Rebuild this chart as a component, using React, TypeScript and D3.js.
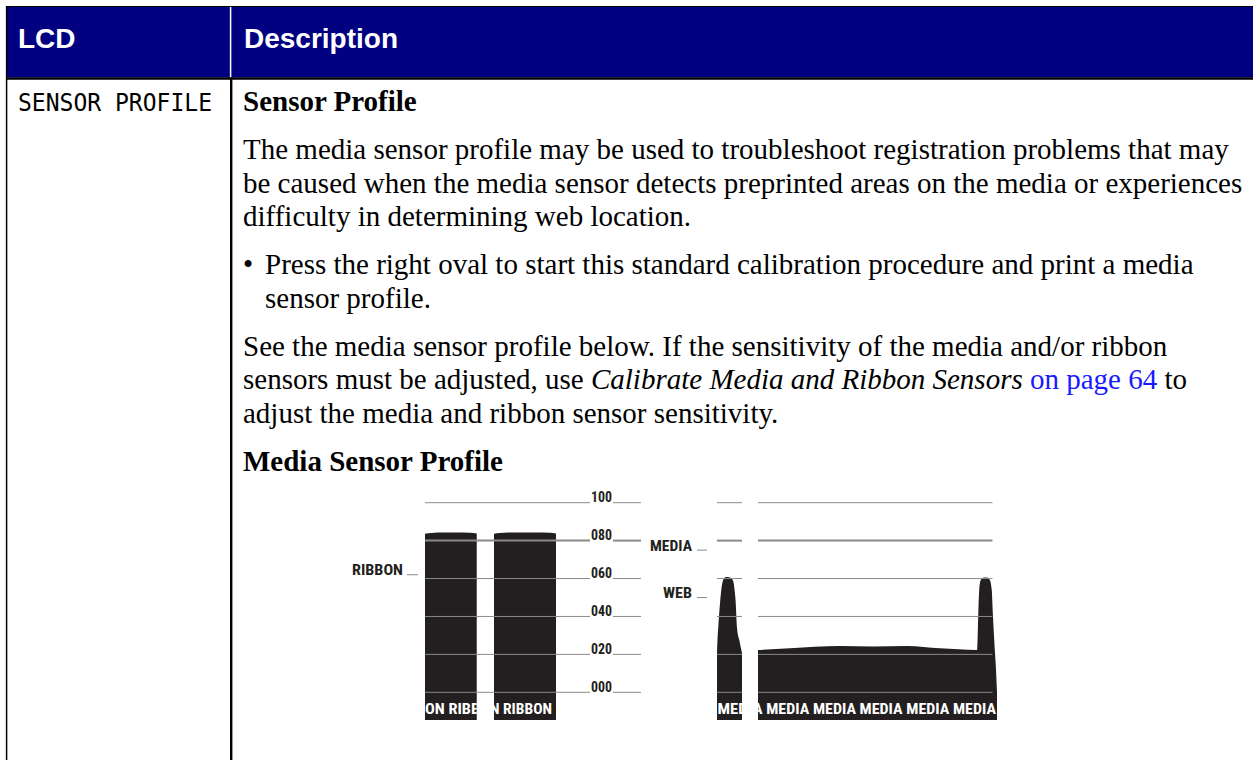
import * as d3 from 'd3';

// ---- chart values ----
const tickValues = [0, 20, 40, 60, 80, 100];
const tickLabels = ['000', '020', '040', '060', '080', '100'];

// strip position (sample) -> sensor reading
const ribbonPanels: [number, number][] = [[0, 20.7], [27.6, 52.4]];
const ribbonA: [number, number][] = [[0, 83.6], [2.5, 84.0], [5, 84.3], [12, 84.3], [18, 84.1], [20.7, 83.7]];
const ribbonB: [number, number][] = [[27.6, 83.6], [30, 84.0], [33, 84.3], [44, 84.3], [50, 84.1], [52.4, 83.7]];

const mediaPanels: [number, number][] = [[0, 10], [16.4, 110.2]];
const mediaA: [number, number][] = [
  [0, 20.6], [0.2, 28], [0.5, 34], [1.2, 47], [1.8, 55], [2.4, 59], [3.6, 60.8],
  [5.2, 60.6], [6.4, 59], [7.2, 52], [7.5, 47], [8, 34], [9, 27], [10, 20.6],
];
const mediaB: [number, number][] = [
  [16.4, 22.3], [29.2, 23.2], [49.2, 24.4], [62.4, 24.1], [76, 24.4], [89.2, 23.2],
  [104, 22.3], [104.6, 45], [105, 56], [105.6, 59.5], [106.8, 60.6], [108, 60.5],
  [109.2, 59], [109.9, 54], [110.4, 40], [111, 25], [111.6, 12], [112, 0],
];

const ribbonThreshold = 62;
const mediaThreshold = 75;
const webThreshold = 50;

const introLines = [
  'The media sensor profile may be used to troubleshoot registration problems that may',
  'be caused when the media sensor detects preprinted areas on the media or experiences',
  'difficulty in determining web location.',
];
const bulletLines = [
  'Press the right oval to start this standard calibration procedure and print a media',
  'sensor profile.',
];

const W = 1253;
const H = 760;
const serif = "'Liberation Serif', 'Times New Roman', serif";
const sans = "'Liberation Sans', Arial, sans-serif";
const narrow = "'Liberation Sans Narrow', 'Arial Narrow', 'Roboto Condensed', sans-serif";
const ink = '#231f20';
const grid = '#8a8a8a';

export default function App() {
  const y = d3.scaleLinear().domain([0, 100]).range([692.3, 502.7]);
  const xRibbon = d3.scaleLinear().domain([0, 66]).range([425, 590]);
  const xMedia = d3.scaleLinear().domain([0, 112]).range([717, 997]);
  const bandBottom = 720;

  const areaFor = (x: d3.ScaleLinear<number, number>) =>
    d3.area<[number, number]>()
      .x(d => x(d[0]))
      .y0(bandBottom)
      .y1(d => y(d[1]))
      .curve(d3.curveMonotoneX);

  const ribbonArea = areaFor(xRibbon);
  const mediaArea = areaFor(xMedia);

  // text layout
  const tx = 243;
  const lh = 33.5;
  const gap = 14.5;
  const titleY = 111;
  const introY = titleY + lh + gap;
  const bulletY = introY + 2 * lh + lh + gap;
  const seeY = bulletY + lh + lh + gap;
  const mspY = seeY + 2 * lh + lh + gap;

  // the printed word strip under each panel, cut off at the panel edges
  const bandText = (
    id: string, x0: number, x1: number, label: string, start: number, len: number
  ) => (
    <g key={id}>
      <clipPath id={id}>
        <rect x={x0} y={y(0)} width={x1 - x0} height={bandBottom - y(0)} />
      </clipPath>
      <text
        clipPath={`url(#${id})`}
        x={start}
        y={713.5}
        fill="#fff"
        fontFamily={narrow}
        fontWeight="bold"
        fontSize={15}
        textLength={len}
        lengthAdjust="spacingAndGlyphs"
      >
        {label}
      </text>
    </g>
  );

  return (
    <svg width={W} height={H} style={{ position: 'absolute', left: 0, top: 0, background: '#fff' }}>
      {/* table frame */}
      <rect x={7} y={6} width={W - 7} height={71.5} fill="#000080" />
      <line x1={6} x2={W} y1={6.5} y2={6.5} stroke="#000" strokeWidth={1.2} />
      <line x1={230.6} x2={230.6} y1={7} y2={77.5} stroke="#fff" strokeWidth={1.5} />
      <line x1={6} x2={W} y1={78.6} y2={78.6} stroke="#000" strokeWidth={2.5} />
      <line x1={6.6} x2={6.6} y1={6} y2={H} stroke="#000" strokeWidth={1.5} />
      <line x1={231.2} x2={231.2} y1={78} y2={H} stroke="#000" strokeWidth={2.4} />

      <text x={18} y={48} fill="#fff" fontFamily={sans} fontWeight="bold" fontSize={28}>LCD</text>
      <text x={244} y={48} fill="#fff" fontFamily={sans} fontWeight="bold" fontSize={28}>Description</text>

      <text x={18} y={111} fill="#000" fontFamily="'DejaVu Sans Mono', monospace" fontSize={24}
        textLength={194} lengthAdjust="spacingAndGlyphs">SENSOR PROFILE</text>

      {/* description text */}
      <g fontFamily={serif} fontSize={29} fill="#000">
        <text x={tx} y={titleY} fontWeight="bold">Sensor Profile</text>
        {introLines.map((l, i) => (
          <text key={l} x={tx} y={introY + i * lh}>{l}</text>
        ))}
        <text x={tx} y={bulletY}>{'\u2022'}</text>
        {bulletLines.map((l, i) => (
          <text key={l} x={265} y={bulletY + i * lh}>{l}</text>
        ))}
        <text x={tx} y={seeY}>See the media sensor profile below. If the sensitivity of the media and/or ribbon</text>
        <text x={tx} y={seeY + lh}>
          sensors must be adjusted, use <tspan fontStyle="italic">Calibrate Media and Ribbon Sensors</tspan>{' '}
          <tspan fill="#1a1aff">on page 64</tspan> to
        </text>
        <text x={tx} y={seeY + 2 * lh}>adjust the media and ribbon sensor sensitivity.</text>
        <text x={tx} y={mspY} fontWeight="bold">Media Sensor Profile</text>
      </g>

      {/* sensor profile fills */}
      <g fill={ink}>
        {[ribbonA, ribbonB].map((d, i) => (
          <path key={`r${i}`} d={ribbonArea(d) ?? ''} />
        ))}
        {[mediaA, mediaB].map((d, i) => (
          <path key={`m${i}`} d={mediaArea(d) ?? ''} />
        ))}
      </g>

      {/* grid lines and tick labels */}
      <g stroke={grid} fill="none">
        {tickValues.map(v => (
          <g key={v} strokeWidth={v === 80 ? 2 : 1}>
            <line x1={xRibbon(0)} x2={xRibbon(66)} y1={y(v)} y2={y(v)} />
            <line x1={613} x2={641} y1={y(v)} y2={y(v)} />
            {mediaPanels.map(([a, b], j) => (
              <line key={j} x1={xMedia(a)} x2={xMedia(b)} y1={y(v)} y2={y(v)} />
            ))}
          </g>
        ))}
      </g>
      <g fontFamily={narrow} fontWeight="bold" fontSize={14} fill={ink}>
        {tickValues.map((v, i) => (
          <text key={v} x={591} y={y(v) - 0.5} textLength={21} lengthAdjust="spacingAndGlyphs">
            {tickLabels[i]}
          </text>
        ))}
      </g>

      {/* threshold markers */}
      <g fontFamily={narrow} fontWeight="bold" fontSize={15} fill={ink}>
        <text x={352} y={y(ribbonThreshold) + 0.5} textLength={51} lengthAdjust="spacingAndGlyphs">RIBBON</text>
        <text x={650} y={y(mediaThreshold) + 0.5} textLength={42} lengthAdjust="spacingAndGlyphs">MEDIA</text>
        <text x={663} y={y(webThreshold) + 0.5} textLength={29} lengthAdjust="spacingAndGlyphs">WEB</text>
      </g>
      <g stroke={grid} strokeWidth={1}>
        <line x1={407} x2={418} y1={y(ribbonThreshold)} y2={y(ribbonThreshold)} />
        <line x1={697} x2={707} y1={y(mediaThreshold)} y2={y(mediaThreshold)} />
        <line x1={697} x2={707} y1={y(webThreshold)} y2={y(webThreshold)} />
      </g>

      {/* printed strip labels */}
      {bandText('clipRA', xRibbon(ribbonPanels[0][0]), xRibbon(ribbonPanels[0][1]), 'ON RIBB', 425, 55)}
      {bandText('clipRB', xRibbon(ribbonPanels[1][0]), xRibbon(ribbonPanels[1][1]), 'N RIBBON', 490, 62)}
      {bandText('clipMA', xMedia(mediaPanels[0][0]), xMedia(mediaPanels[0][1]), 'MED', 717.5, 30)}
      {bandText('clipMB', xMedia(mediaPanels[1][0]), xMedia(112), 'A MEDIA MEDIA MEDIA MEDIA MEDIA', 753, 243)}
    </svg>
  );
}
